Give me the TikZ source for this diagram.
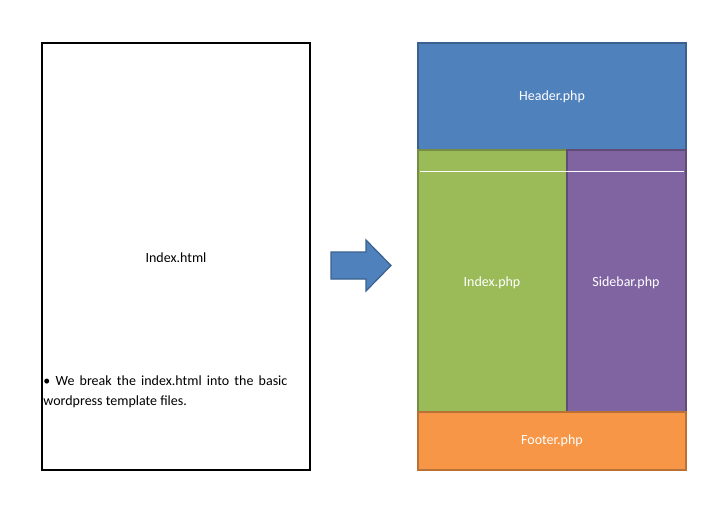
\documentclass[tikz,border=0pt]{standalone}
\usepackage{fontspec}
\setmainfont{Carlito}
\begin{document}
\begin{tikzpicture}[x=0.5pt,y=-0.5pt,font=\fontsize{7}{10}\selectfont,
  blk/.style={draw=#1!75!black,line width=0.6pt,fill=#1,text=white},
  lbl/.style={inner sep=0pt}]
\definecolor{cblue}{HTML}{4F81BD}
\definecolor{cgreen}{HTML}{9BBB59}
\definecolor{cpurple}{HTML}{8064A2}
\definecolor{corange}{HTML}{F79646}
\useasboundingbox (0,0) rectangle (728,515);
\draw[line width=0.7pt] (42,43) rectangle (310,470);
\node[lbl] (idx) at (176,258) {Index.html};
\node[lbl,text width=122pt,align=justify,anchor=north west] (txt) at (43,375)
 {\textbullet\ We break the index.html into the basic wordpress template files.};
\draw[fill=cblue,draw=cblue!75!black,line width=0.6pt] (331,252) -- (366,252) -- (366,240) -- (391,265.5) -- (366,291) -- (366,279) -- (331,279) -- cycle;
\draw[blk=cblue] (418,43) rectangle (686,150);
\draw[blk=cgreen] (418,150) rectangle (567,412);
\draw[blk=cpurple] (567,150) rectangle (686,412);
\draw[blk=corange] (418,412) rectangle (686,470);
\draw[white,line width=0.4pt] (420,171) -- (684,171);
\node[lbl,text=white] (h) at (552,97) {Header.php};
\node[lbl,text=white] (i) at (492,283) {Index.php};
\node[lbl,text=white] (s) at (626,283) {Sidebar.php};
\node[lbl,text=white] (f) at (552,441) {Footer.php};
\end{tikzpicture}
\end{document}
